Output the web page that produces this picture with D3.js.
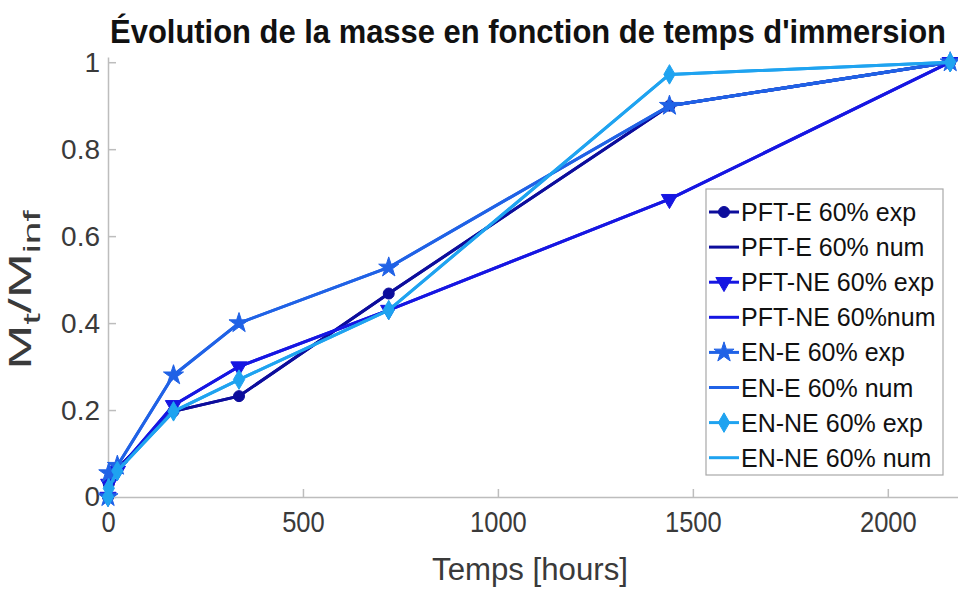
<!DOCTYPE html>
<html>
<head>
<meta charset="utf-8">
<script src="https://cdn.jsdelivr.net/npm/d3@7"></script>
<style>
  html, body { margin: 0; padding: 0; background: #fff; }
  svg { display: block; font-family: Arial, "Liberation Sans", Helvetica, sans-serif; }
</style>
</head>
<body>
<svg id="chart" width="958" height="589"></svg>
<script>
// Immersion time (hours)
const times = [0, 2, 24, 168, 336, 720, 1440, 2160];

// Normalised mass uptake Mt/Minf per specimen
const pftE  = [0, 0.030, 0.065, 0.197, 0.232, 0.468, 0.900, 1];
const pftNE = [0, 0.030, 0.060, 0.211, 0.300, 0.430, 0.685, 1];
const enE   = [0, 0.055, 0.072, 0.280, 0.400, 0.528, 0.900, 1];
const enNE  = [0, 0.020, 0.060, 0.197, 0.270, 0.430, 0.972, 1];

// Numerical curves follow the experimental points
const pftENum  = [0, 0.030, 0.065, 0.197, 0.232, 0.468, 0.900, 1];
const pftNENum = [0, 0.030, 0.060, 0.211, 0.300, 0.430, 0.685, 1];
const enENum   = [0, 0.055, 0.072, 0.280, 0.400, 0.528, 0.900, 1];
const enNENum  = [0, 0.020, 0.060, 0.197, 0.270, 0.430, 0.972, 1];

const xTicks = [0, 500, 1000, 1500, 2000];
const yTicks = [0, 0.2, 0.4, 0.6, 0.8, 1];

const seriesNames = [
  "PFT-E 60% exp", "PFT-E 60% num",
  "PFT-NE 60% exp", "PFT-NE 60%num",
  "EN-E 60% exp", "EN-E 60% num",
  "EN-NE 60% exp", "EN-NE 60% num"
];

const C_PFTE = "#0d0d9c", C_PFTNE = "#1616e2", C_ENE = "#2062e6", C_ENNE = "#1fa3f0";

const series = [
  { name: seriesNames[0], vals: pftE,     color: C_PFTE,  marker: "circle" },
  { name: seriesNames[1], vals: pftENum,  color: C_PFTE,  marker: null },
  { name: seriesNames[2], vals: pftNE,    color: C_PFTNE, marker: "triangle" },
  { name: seriesNames[3], vals: pftNENum, color: C_PFTNE, marker: null },
  { name: seriesNames[4], vals: enE,      color: C_ENE,   marker: "star" },
  { name: seriesNames[5], vals: enENum,   color: C_ENE,   marker: null },
  { name: seriesNames[6], vals: enNE,     color: C_ENNE,  marker: "diamond" },
  { name: seriesNames[7], vals: enNENum,  color: C_ENNE,  marker: null }
];

const svg = d3.select("#chart");

const x = d3.scaleLinear().domain([0, 2180]).range([108, 958]);
const y = d3.scaleLinear().domain([0, 1.012]).range([497, 57]);

const axisColor = "#bdbdbd";
const textColor = "#3a3a3a";

// Axes (ticks pointing inward)
const gx = svg.append("g").attr("transform", `translate(0,${y(0)})`)
  .call(d3.axisBottom(x).tickValues(xTicks).tickFormat(d3.format("d"))
    .tickSizeInner(-8).tickSizeOuter(0).tickPadding(14));
const gy = svg.append("g").attr("transform", `translate(${x(0)},0)`)
  .call(d3.axisLeft(y).tickValues(yTicks).tickFormat(d => d === 0 || d === 1 ? d3.format("d")(d) : d3.format(".1f")(d))
    .tickSizeInner(-8).tickSizeOuter(0).tickPadding(8));

[gx, gy].forEach(g => {
  g.select(".domain").attr("stroke", axisColor).attr("stroke-width", 1.5);
  g.selectAll(".tick line").attr("stroke", axisColor).attr("stroke-width", 1.5);
  g.selectAll(".tick text").attr("fill", textColor).attr("font-family", "Arial, 'Liberation Sans', sans-serif");
});
gx.selectAll(".tick text").attr("font-size", 29).attr("dy", "0.71em")
  .attr("transform", "scale(0.88,1)");
gy.selectAll(".tick text").attr("font-size", 28);

// Marker shapes
const symbolFor = {
  circle: d3.symbol().type(d3.symbolCircle).size(95),
  triangle: d3.symbol().type(d3.symbolTriangle).size(115),
  star: d3.symbol().type(d3.symbolStar).size(125),
  diamond: d3.symbol().type(d3.symbolDiamond).size(110)
};

const line = d3.line().x(d => x(d[0])).y(d => y(d[1]));

const plot = svg.append("g");
series.forEach(s => {
  const pts = times.map((t, i) => [t, s.vals[i]]);
  plot.append("path")
    .attr("d", line(pts))
    .attr("fill", "none")
    .attr("stroke", s.color)
    .attr("stroke-width", 3)
    .attr("stroke-linejoin", "round");
  if (s.marker) {
    plot.selectAll(null).data(pts).enter().append("path")
      .attr("d", symbolFor[s.marker]())
      .attr("transform", d => `translate(${x(d[0])},${y(d[1])})` + (s.marker === "triangle" ? " rotate(180)" : ""))
      .attr("fill", s.color)
      .attr("stroke", s.color)
      .attr("stroke-width", 1);
  }
});

// Title, condensed horizontally to span the plot width
const titleG = svg.append("g").attr("transform", "translate(528,43)");
const title = titleG.append("text")
  .attr("text-anchor", "middle")
  .attr("font-size", 34).attr("font-weight", "bold")
  .attr("fill", "#111")
  .text("Évolution de la masse en fonction de temps d'immersion");
const tW = title.node().getComputedTextLength();
title.attr("transform", `scale(${836 / tW},1)`);

// X label
const xlG = svg.append("g").attr("transform", "translate(530,580)");
const xl = xlG.append("text")
  .attr("text-anchor", "middle")
  .attr("font-size", 31)
  .attr("fill", textColor)
  .text("Temps [hours]");
xl.attr("transform", `scale(${196 / xl.node().getComputedTextLength()},1)`);

// Y label: M_t / M_inf, stretched slightly along its length
const ylG = svg.append("g").attr("transform", "translate(31,290) rotate(-90)");
const yl = ylG.append("text")
  .attr("text-anchor", "middle")
  .attr("font-size", 32)
  .attr("fill", textColor);
yl.append("tspan").text("M");
yl.append("tspan").attr("font-size", 24).attr("dy", 9).text("t");
yl.append("tspan").attr("dy", -9).text("/M");
yl.append("tspan").attr("font-size", 24).attr("dy", 9).text("inf");
const ylW = yl.node().getBBox().width;
yl.attr("transform", `scale(${160 / ylW},1)`);

// Legend
const lg = svg.append("g");
lg.append("rect")
  .attr("x", 706).attr("y", 189).attr("width", 237).attr("height", 286)
  .attr("fill", "#fff").attr("stroke", "#a8a8a8").attr("stroke-width", 1.2);
series.forEach((s, i) => {
  const cy = 212 + i * 35.1;
  lg.append("line")
    .attr("x1", 709).attr("x2", 739).attr("y1", cy).attr("y2", cy)
    .attr("stroke", s.color).attr("stroke-width", 3);
  if (s.marker) {
    lg.append("path")
      .attr("d", symbolFor[s.marker]())
      .attr("transform", `translate(724,${cy})` + (s.marker === "triangle" ? " rotate(180)" : ""))
      .attr("fill", s.color).attr("stroke", s.color);
  }
  lg.append("text")
    .attr("x", 741).attr("y", cy).attr("dy", "0.36em")
    .attr("font-size", 25).attr("fill", "#111")
    .text(s.name);
});
</script>
</body>
</html>
